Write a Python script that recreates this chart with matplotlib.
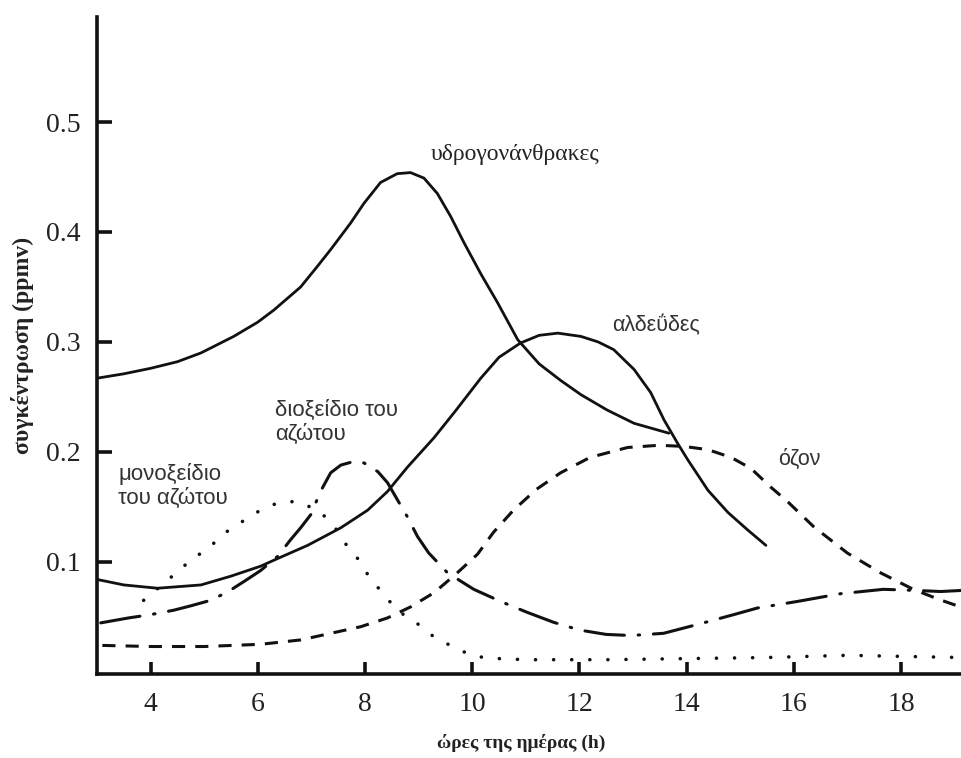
import matplotlib
matplotlib.use("Agg")
import matplotlib.pyplot as plt

# ---------------- data ----------------
hc_x = [3.0, 3.5, 4.0, 4.5, 4.94, 5.55, 6.0, 6.3, 6.8, 7.1, 7.36, 7.73, 7.98, 8.29, 8.6, 8.85, 9.1,
        9.35, 9.6, 9.85, 10.16, 10.47, 10.85, 11.25, 11.65, 12.03, 12.52, 13.02, 13.67]
hc_y = [0.267, 0.271, 0.276, 0.282, 0.29, 0.305, 0.318, 0.329, 0.35, 0.368, 0.384, 0.408, 0.426, 0.445, 0.453, 0.454, 0.449,
        0.435, 0.414, 0.39, 0.362, 0.336, 0.302, 0.28, 0.265, 0.252, 0.238, 0.226, 0.217]

ald_x = [3.0, 3.5, 4.13, 4.94, 5.5, 6.05, 6.37, 6.93, 7.55, 8.05, 8.42, 8.79, 9.29, 9.7, 10.16, 10.5, 10.9,
         11.25, 11.6, 12.03, 12.35, 12.64, 13.02, 13.33, 13.58, 13.83, 14.02, 14.4, 14.77, 15.14, 15.48]
ald_y = [0.084, 0.079, 0.076, 0.079, 0.087, 0.096, 0.103, 0.115, 0.131, 0.147, 0.164, 0.186, 0.213, 0.238, 0.267, 0.286, 0.299,
         0.306, 0.308, 0.305, 0.3, 0.293, 0.275, 0.254, 0.229, 0.208, 0.193, 0.165, 0.145, 0.129, 0.115]

oz_x = [3.1, 4.0, 5.0, 6.05, 6.8, 7.36, 7.92, 8.42, 8.85, 9.29, 9.7, 10.1, 10.4, 10.77, 11.2, 11.65,
        12.2, 12.9, 13.48, 13.95, 14.4, 14.83, 15.2, 15.57, 15.88, 16.37, 17.0, 17.62, 18.23, 18.7, 19.11]
oz_y = [0.024, 0.023, 0.023, 0.025, 0.029, 0.035, 0.041, 0.049, 0.059, 0.072, 0.089, 0.107, 0.127, 0.147, 0.166, 0.181,
        0.195, 0.204, 0.206, 0.205, 0.202, 0.195, 0.185, 0.168, 0.155, 0.132, 0.108, 0.09, 0.075, 0.066, 0.059]

no_x = [3.87, 4.43, 4.69, 4.97, 5.18, 5.46, 6.05, 6.39, 6.74, 7.11, 7.38, 7.61, 7.85, 8.03, 8.22, 8.42, 8.66, 9.0,
        9.28, 9.63, 10.03, 10.5, 11.0, 12.5, 14.0, 15.5, 17.0, 19.1]
no_y = [0.065, 0.088, 0.099, 0.109, 0.117, 0.129, 0.147, 0.154, 0.155, 0.147, 0.136, 0.118, 0.104, 0.09, 0.078, 0.066, 0.054, 0.043,
        0.032, 0.023, 0.014, 0.012, 0.011, 0.011, 0.012, 0.013, 0.015, 0.013]

no2_x = [3.07, 3.59, 4.0, 4.43, 4.75, 5.12, 5.45, 5.77, 6.05, 6.37, 6.61, 6.8, 6.99, 7.17, 7.36, 7.55, 7.77, 7.98, 8.24,
         8.42, 8.61, 8.79, 8.98, 9.19, 9.54, 10.03, 10.53, 11.03, 11.52, 12.0, 12.5, 12.96, 13.57, 14.2, 14.88, 15.32,
         16.07, 16.87, 17.67, 18.3, 18.74, 19.13]
no2_y = [0.0445, 0.049, 0.052, 0.056, 0.06, 0.065, 0.073, 0.083, 0.092, 0.105, 0.12, 0.131, 0.143, 0.164, 0.181, 0.188, 0.191, 0.19, 0.182,
         0.172, 0.156, 0.141, 0.123, 0.108, 0.09, 0.075, 0.064, 0.054, 0.045, 0.038, 0.034, 0.033, 0.035, 0.043, 0.052, 0.058,
         0.064, 0.071, 0.075, 0.074, 0.073, 0.074]

x_ticks = [4, 6, 8, 10, 12, 14, 16, 18]
y_ticks = [0.1, 0.2, 0.3, 0.4, 0.5]
y_ticklabels = ["0.1", "0.2", "0.3", "0.4", "0.5"]

label_hc = "υδρογονάνθρακες"
label_ald = "αλδεΰδες"
label_no2 = "διοξείδιο του\nαζώτου"
label_no = "μονοξείδιο\nτου αζώτου"
label_oz = "όζον"
xlabel = "ώρες της ημέρας (h)"
ylabel = "συγκέντρωση (ppmv)"

# ---------------- figure ----------------
W, H = 961, 758
fig = plt.figure(figsize=(W / 100, H / 100), dpi=100)
ax = fig.add_axes([97 / W, (H - 674) / H, (W - 97) / W, (674 - 17) / H])
ax.set_xlim(3, 19.12)
ax.set_ylim(-0.002, 0.5955)

ink = "#111111"
ax.plot(hc_x, hc_y, color=ink, lw=2.0, solid_capstyle="round", solid_joinstyle="round")
ax.plot(ald_x, ald_y, color=ink, lw=2.0, solid_capstyle="round", solid_joinstyle="round")
ax.plot(oz_x, oz_y, color=ink, lw=2.2, linestyle=(0, (4.3, 3.3)))
ax.plot(no_x, no_y, color=ink, lw=2.6, linestyle=(0, (0.01, 5.0)), dash_capstyle="round")
ax.plot(no2_x, no2_y, color=ink, lw=2.2, linestyle=(0, (13, 4.5, 0.5, 4.5)), dash_capstyle="round")

for s in ["top", "right"]:
    ax.spines[s].set_visible(False)
for s in ["left", "bottom"]:
    ax.spines[s].set_linewidth(2.6)
    ax.spines[s].set_color(ink)

ax.set_xticks(x_ticks)
ax.set_xticklabels([str(v) for v in x_ticks])
ax.set_yticks(y_ticks)
ax.set_yticklabels(y_ticklabels)
ax.tick_params(axis="x", direction="in", length=9, width=2.6, color=ink, pad=13)
ax.tick_params(axis="y", direction="in", length=11, width=2.6, color=ink, pad=12)
for lab in ax.get_xticklabels() + ax.get_yticklabels():
    lab.set_fontfamily("Liberation Serif")
    lab.set_fontsize(20)
    lab.set_color("#222222")

serif = "Liberation Serif"
sans = "Liberation Sans"
ax.text(9.23, 0.47, label_hc, fontfamily=serif, fontsize=17, color="#222222", va="center", ha="left")
ax.text(12.62, 0.315, label_ald, fontfamily=sans, fontsize=15.5, color="#333333", va="center", ha="left")
ax.text(6.33, 0.227, label_no2, fontfamily=sans, fontsize=16, color="#333333", va="center", ha="left", linespacing=1.2)
ax.text(3.4, 0.169, label_no, fontfamily=sans, fontsize=16, color="#333333", va="center", ha="left", linespacing=1.2)
ax.text(15.7, 0.193, label_oz, fontfamily=sans, fontsize=15.5, color="#333333", va="center", ha="left")

fig.text(23 / W, 1 - 345 / H, ylabel, rotation=90, fontfamily=serif, fontweight="bold",
         fontsize=17, ha="center", va="center", color="#222222")
fig.text(521 / W, 1 - 743 / H, xlabel, fontfamily=serif, fontweight="bold",
         fontsize=14, ha="center", va="center", color="#222222")

fig.savefig("out.png", dpi=100)
